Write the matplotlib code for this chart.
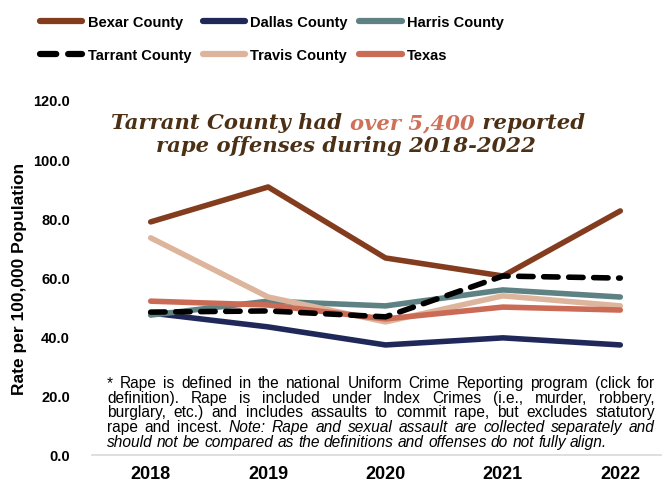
import matplotlib
matplotlib.use('Agg')
import matplotlib.pyplot as plt

years = [2018, 2019, 2020, 2021, 2022]
bexar = [78.8, 90.6, 66.6, 60.5, 82.5]
dallas = [48.0, 43.3, 37.2, 39.6, 37.2]
harris = [47.3, 52.0, 50.4, 55.8, 53.4]
tarrant = [48.3, 48.7, 46.7, 60.5, 59.8]
travis = [73.4, 53.4, 45.0, 53.8, 50.4]
texas = [52.0, 50.7, 46.0, 50.0, 49.0]
y_ticks = [0, 20, 40, 60, 80, 100, 120]

plt.rcParams['font.family'] = ['Liberation Sans', 'DejaVu Sans']

fig = plt.figure(figsize=(6.62, 4.89), dpi=100)
ax = fig.add_axes([92 / 662, 1 - 456 / 489, 587 / 662, 355 / 489])

lw = 4.0
series = [
    ('Bexar County', bexar, '#843C1F', '-'),
    ('Dallas County', dallas, '#1F2858', '-'),
    ('Harris County', harris, '#5E8283', '-'),
    ('Travis County', travis, '#DDB59C', '-'),
    ('Texas', texas, '#CB6A55', '-'),
]
handles = {}
for name, vals, col, ls in series:
    h, = ax.plot(years, vals, color=col, lw=lw, solid_capstyle='round',
                 label=name)
    handles[name] = h
h, = ax.plot(years, tarrant, color='black', lw=lw, ls=(0, (2.6, 1.9)),
             dash_capstyle='round', label='Tarrant County')
handles['Tarrant County'] = h

ax.set_xlim(2017.5, 2022.5)
ax.set_ylim(0, 120)
ax.set_xticks(years)
ax.set_xticklabels([str(y) for y in years], fontweight='bold', fontsize=13)
ax.set_yticks(y_ticks)
ax.set_yticklabels(['%.1f' % v for v in y_ticks], fontweight='bold',
                   fontsize=10.5)
ax.tick_params(axis='y', length=0, pad=16)
ax.tick_params(axis='x', length=0, pad=7)
for s in ['top', 'right', 'left']:
    ax.spines[s].set_visible(False)
ax.spines['bottom'].set_color('#D9D9D9')
ax.spines['bottom'].set_linewidth(1.2)
ax.set_ylabel('Rate per 100,000 Population', fontweight='bold', fontsize=12.5)
ax.yaxis.set_label_coords(-65 / 587, 0.5)

order = ['Bexar County', 'Tarrant County', 'Dallas County', 'Travis County',
         'Harris County', 'Texas']
leg = fig.legend([handles[k] for k in order], order, loc='upper left',
                 bbox_to_anchor=(27 / 662, 1 - 3 / 489), ncol=3,
                 frameon=False, prop={'weight': 'bold', 'size': 10.5},
                 handlelength=2.9, columnspacing=0.8, labelspacing=1.3,
                 handletextpad=0.35)
for lh in leg.get_lines():
    lh.set_linewidth(4.5)

fig.canvas.draw()
renderer = fig.canvas.get_renderer()


def text_width(s, **kw):
    t = fig.text(0, 0, s, **kw)
    w = t.get_window_extent(renderer).width
    t.remove()
    return w


def place_run(segments, y, x0=None, center=None):
    # segments: list of (text, kwargs); positions in pixels from top-left
    widths = [text_width(s, **kw) for s, kw in segments]
    total = sum(widths)
    x = x0 if x0 is not None else center - total / 2
    for (s, kw), w in zip(segments, widths):
        fig.text(x / 662, 1 - y / 489, s, va='baseline', ha='left', **kw)
        x += w


# title
tkw = dict(family='DejaVu Serif', style='italic', weight='bold', size=15.2)
dark = '#4B3016'
place_run([('Tarrant County had ', dict(color=dark, **tkw)),
           ('over 5,400', dict(color='#D07058', **tkw)),
           (' reported', dict(color=dark, **tkw))], 129, center=348)
place_run([('rape offenses during 2018-2022', dict(color=dark, **tkw))],
          152, center=346)

# footnote, justified
fkw = dict(size=11.2, color='black')
note_lines = [
    ([('* Rape is defined in the national Uniform Crime Reporting program '
       '(click for', False)], 'justify'),
    ([('definition). Rape is included under Index Crimes (i.e., murder, '
       'robbery,', False)], 'justify'),
    ([('burglary, etc.) and includes assaults to commit rape, but excludes '
       'statutory', False)], 'justify'),
    ([('rape and incest.', False),
      ('Note: Rape and sexual assault are collected separately and', True)],
     'justify'),
    ([('should not be compared as the definitions and offenses do not fully '
       'align.', True)], 'left'),
]
x_left, x_right = 107, 655
y0, dy = 388, 14.7
for i, (parts, mode) in enumerate(note_lines):
    y = y0 + i * dy
    words = []
    for txt, ital in parts:
        for w in txt.split(' '):
            words.append((w, dict(style='italic' if ital else 'normal', **fkw)))
    widths = [text_width(w, **kw) for w, kw in words]
    space = text_width('a a', **fkw) - text_width('aa', **fkw)
    if mode == 'justify':
        space = (x_right - x_left - sum(widths)) / (len(words) - 1)
    x = x_left
    for (w, kw), wd in zip(words, widths):
        fig.text(x / 662, 1 - y / 489, w, va='baseline', ha='left', **kw)
        x += wd + space

fig.savefig('out.png', dpi=100)
